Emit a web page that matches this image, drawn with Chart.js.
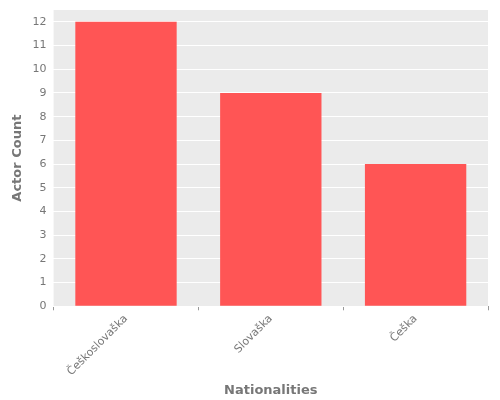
<!DOCTYPE html>
<html>
<head>
<meta charset="utf-8">
<script src="https://cdn.jsdelivr.net/npm/chart.js@4"></script>
<style>body{margin:0;background:#fff}#wrap{width:500px;height:400px}</style>
</head>
<body>
<div id="wrap"><canvas id="chart"></canvas></div>
<script>
var nationalities = ["Češkoslovaška", "Slovaška", "Češka"];
var actorCounts = [12, 9, 6];
var yTicks = [0, 1, 2, 3, 4, 5, 6, 7, 8, 9, 10, 11, 12];

// grey panel behind the plot area
var panelBg = {
    id: "panelBg",
    beforeDraw: function (chart) {
        var a = chart.chartArea, ctx = chart.ctx;
        ctx.save();
        ctx.fillStyle = "#EBEBEB";
        ctx.fillRect(a.left, a.top, a.right - a.left, a.bottom - a.top);
        ctx.restore();
    }
};

Chart.defaults.font.family = "DejaVu Sans";
new Chart(document.getElementById("chart"), {
    type: "bar",
    data: {
        labels: nationalities,
        datasets: [{
            data: actorCounts,
            backgroundColor: "#FF5555",
            categoryPercentage: 0.7,
            barPercentage: 1.0
        }]
    },
    options: {
        responsive: true,
        maintainAspectRatio: false,
        animation: false,
        layout: { padding: { top: 10, right: 12, left: 6, bottom: 0 } },
        plugins: { legend: { display: false }, tooltip: { enabled: false } },
        scales: {
            x: {
                grid: { drawOnChartArea: false, tickLength: 4, color: "#999" },
                border: { display: false },
                ticks: { color: "#777", font: { size: 11 }, maxRotation: 45, minRotation: 45, padding: 2 },
                title: { display: true, text: "Nationalities", color: "#777", font: { size: 13, weight: "bold" }, padding: { top: 2, bottom: 2 } }
            },
            y: {
                min: 0,
                max: 12.5,
                afterBuildTicks: function (axis) {
                    axis.ticks = yTicks.map(function (v) { return { value: v }; });
                },
                ticks: { color: "#777", font: { size: 11 }, padding: 3 },
                grid: { color: "#FFFFFF", lineWidth: 1, tickLength: 4 },
                border: { display: false },
                title: { display: true, text: "Actor Count", color: "#777", font: { size: 13, weight: "bold" } }
            }
        }
    },
    plugins: [panelBg]
});
</script>
</body>
</html>
